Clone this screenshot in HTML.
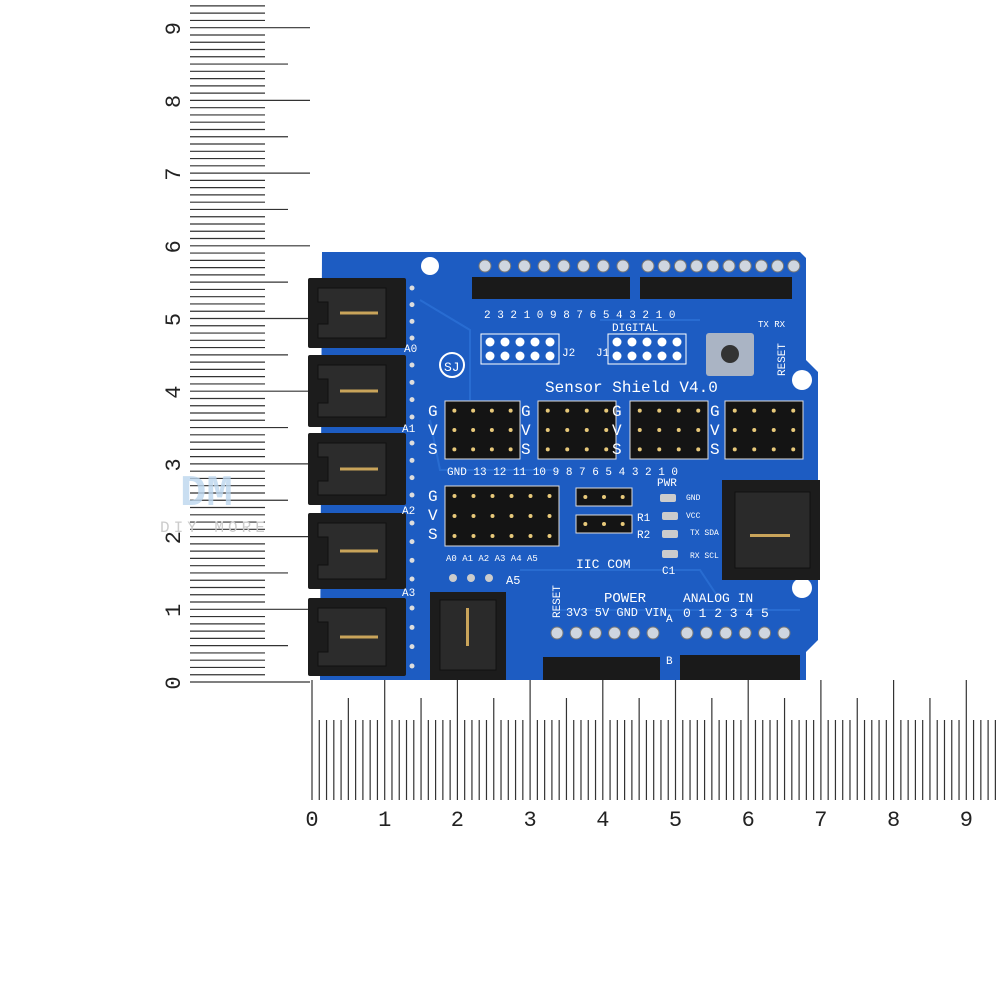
<!DOCTYPE html>
<html><head><meta charset="utf-8"><style>
html,body{margin:0;padding:0;background:#fff;width:1000px;height:1000px;overflow:hidden}
svg{display:block}
text{font-family:"Liberation Mono",monospace}
</style></head><body>
<svg id="s" width="1000" height="1000" viewBox="0 0 1000 1000" xmlns="http://www.w3.org/2000/svg">
<g id="ruler" stroke="#333" stroke-width="1.2"></g>
<g id="nums" font-family="Liberation Sans,sans-serif" font-size="22" fill="#222"></g>
<text x="180" y="505" font-family="Liberation Sans,sans-serif" font-size="44" font-weight="bold" fill="#bcd6ee" opacity="0.8">DM</text>
<text x="160" y="532" font-family="Liberation Sans,sans-serif" font-size="16" fill="#ccc" letter-spacing="4">DIY MORE</text>
<path d="M322 252 L800 252 L806 258 L806 360 L818 372 L818 640 L806 652 L806 680 L320 680 Z" fill="#1d5cc2"/>
<g fill="none" stroke="#2d74d8" stroke-width="2" opacity="0.7">
<path d="M420 300 L470 330 L470 400"/><path d="M430 420 L440 470 L560 470"/><path d="M520 570 L700 570 L720 600"/><path d="M600 320 L700 320"/><path d="M560 610 L800 610"/>
</g>
<circle cx="430" cy="266" r="9" fill="#fff"/>
<circle cx="802" cy="380" r="10" fill="#fff"/>
<circle cx="802" cy="588" r="10" fill="#fff"/>
<g id="parts"></g>
<g fill="#fff" font-size="15">
<text x="545" y="392" font-size="16">Sensor Shield V4.0</text>
<text x="612" y="331" font-size="11">DIGITAL</text>
<text x="562" y="356" font-size="11">J2</text>
<text x="596" y="356" font-size="11">J1</text>
<text x="604" y="602" font-size="14">POWER</text>
<text x="683" y="602" font-size="13">ANALOG IN</text>
<text x="566" y="616" font-size="12">3V3 5V GND VIN</text>
<text x="683" y="617" font-size="13">0 1 2 3 4 5</text>
<text x="576" y="568" font-size="13">IIC COM</text>
<text x="657" y="486" font-size="11">PWR</text>
<text x="637" y="521" font-size="11">R1</text>
<text x="637" y="538" font-size="11">R2</text>
<text x="662" y="574" font-size="11">C1</text>
<text x="686" y="500" font-size="8">GND</text>
<text x="686" y="518" font-size="8">VCC</text>
<text x="690" y="535" font-size="8">TX SDA</text>
<text x="690" y="558" font-size="8">RX SCL</text>
<text x="447" y="475" font-size="11">GND 13 12  11 10 9 8   7 6 5 4    3 2 1 0</text>
<text x="446" y="561" font-size="9">A0 A1 A2 A3 A4 A5</text>
<text x="506" y="584" font-size="12">A5</text>
<text x="666" y="622" font-size="11">A</text>
<text x="666" y="664" font-size="11">B</text>
<text x="404" y="352" font-size="11">A0</text>
<text x="402" y="432" font-size="11">A1</text>
<text x="402" y="514" font-size="11">A2</text>
<text x="402" y="596" font-size="11">A3</text>
<text x="758" y="327" font-size="9">TX RX</text>
<text x="785" y="376" font-size="11" transform="rotate(-90 785 376)">RESET</text>
<text x="560" y="618" font-size="11" transform="rotate(-90 560 618)">RESET</text>
<text x="484" y="318" font-size="11">2 3 2 1 0 9 8 7 6 5 4 3 2 1 0</text>
</g>
<circle cx="452" cy="365" r="12" fill="none" stroke="#fff" stroke-width="2"/>
<text x="444" y="371" fill="#fff" font-size="13">SJ</text>
</svg>
<script>
var NS="http://www.w3.org/2000/svg";
function el(p,t,a){var e=document.createElementNS(NS,t);for(var k in a)e.setAttribute(k,a[k]);document.getElementById(p).appendChild(e);return e}
var U=72.7;
for(var i=0;i<=95;i++){var y=682-i*U/10;if(y<-2)break;var x2=i%10==0?310:(i%5==0?288:265);el("ruler","line",{x1:190,y1:y,x2:x2,y2:y});}
for(var k=0;k<=9;k++){var y=682-k*U;var t=el("nums","text",{x:0,y:0,transform:"translate(180 "+(y+1)+") rotate(-90)","text-anchor":"middle"});t.textContent=k;}
for(var i=0;i<=94;i++){var x=312+i*U/10;if(x>998)break;var y1=i%10==0?680:(i%5==0?698:720);el("ruler","line",{x1:x,y1:y1,x2:x,y2:800});}
for(var k=0;k<=9;k++){var t=el("nums","text",{x:312+k*U,y:826,"text-anchor":"middle"});t.textContent=k;}
[[278,70],[355,72],[433,72],[513,76],[598,78]].forEach(function(c){
 el("parts","rect",{x:308,y:c[0],width:98,height:c[1],fill:"#1c1c1c",rx:2});
 el("parts","path",{d:"M318 "+(c[0]+10)+" h68 v"+(c[1]-20)+" h-68 v-14 h10 v"+(-(c[1]-48))+" h-10z",fill:"#2c2c2c",stroke:"#111"});
 el("parts","rect",{x:340,y:c[0]+c[1]/2-1.5,width:38,height:3,fill:"#c9a45a"});
 for(var j=0;j<4;j++)el("parts","circle",{cx:412,cy:c[0]+10+j*(c[1]-20)/3,r:2.5,fill:"#ddd"});
});
for(var j=0;j<8;j++)el("parts","circle",{cx:485+j*19.7,cy:266,r:6,fill:"#cfd6e0",stroke:"#777"});
for(var j=0;j<10;j++)el("parts","circle",{cx:648+j*16.2,cy:266,r:6,fill:"#cfd6e0",stroke:"#777"});
el("parts","rect",{x:472,y:277,width:158,height:22,fill:"#1a1a1a"});
el("parts","rect",{x:640,y:277,width:152,height:22,fill:"#1a1a1a"});
[[485,342],[612,342]].forEach(function(p){el("parts","rect",{x:p[0]-4,y:p[1]-8,width:78,height:30,fill:"none",stroke:"#fff"});for(var r=0;r<2;r++)for(var c=0;c<5;c++)el("parts","circle",{cx:p[0]+5+c*15,cy:p[1]+r*14,r:4.5,fill:"#fff"});});
el("parts","rect",{x:706,y:333,width:48,height:43,fill:"#aab4c4",rx:3});
el("parts","circle",{cx:730,cy:354,r:9,fill:"#333"});
function block(x,y,cols,rows,w,h){el("parts","rect",{x:x,y:y,width:w,height:h,fill:"#141414",stroke:"#ddd","stroke-width":1});for(var r=0;r<rows;r++)for(var c=0;c<cols;c++)el("parts","circle",{cx:x+w/cols*(c+.5),cy:y+h/rows*(r+.5),r:2,fill:"#e8c97a"});}
block(445,401,4,3,75,58);block(538,401,4,3,78,58);block(630,401,4,3,78,58);block(725,401,4,3,78,58);
block(445,486,6,3,114,60);block(576,488,3,1,56,18);block(576,515,3,1,56,18);
[428,521,612,710].forEach(function(x){["G","V","S"].forEach(function(s,i){var t=el("parts","text",{x:x,y:416+i*19,fill:"#fff","font-size":16});t.textContent=s;});});
["G","V","S"].forEach(function(s,i){var t=el("parts","text",{x:428,y:501+i*19,fill:"#fff","font-size":16});t.textContent=s;});
[[668,498],[670,516],[670,534],[670,554]].forEach(function(p){el("parts","rect",{x:p[0]-8,y:p[1]-4,width:16,height:8,fill:"#ccc",rx:2});});
el("parts","rect",{x:722,y:480,width:98,height:100,fill:"#1c1c1c"});
el("parts","rect",{x:735,y:492,width:75,height:76,fill:"#2a2a2a",stroke:"#111"});
el("parts","rect",{x:750,y:534,width:40,height:3,fill:"#c9a45a"});
el("parts","rect",{x:430,y:592,width:76,height:88,fill:"#1c1c1c"});
el("parts","rect",{x:440,y:600,width:56,height:70,fill:"#2a2a2a",stroke:"#111"});
el("parts","rect",{x:466,y:608,width:3,height:38,fill:"#c9a45a"});
for(var j=0;j<3;j++)el("parts","circle",{cx:453+j*18,cy:578,r:4,fill:"#ccc"});
for(var j=0;j<6;j++){el("parts","circle",{cx:557+j*19.2,cy:633,r:6,fill:"#cfd6e0",stroke:"#777"});el("parts","circle",{cx:687+j*19.4,cy:633,r:6,fill:"#cfd6e0",stroke:"#777"});}
el("parts","rect",{x:543,y:657,width:117,height:23,fill:"#1a1a1a"});
el("parts","rect",{x:680,y:655,width:120,height:25,fill:"#1a1a1a"});
</script>
</body></html>
